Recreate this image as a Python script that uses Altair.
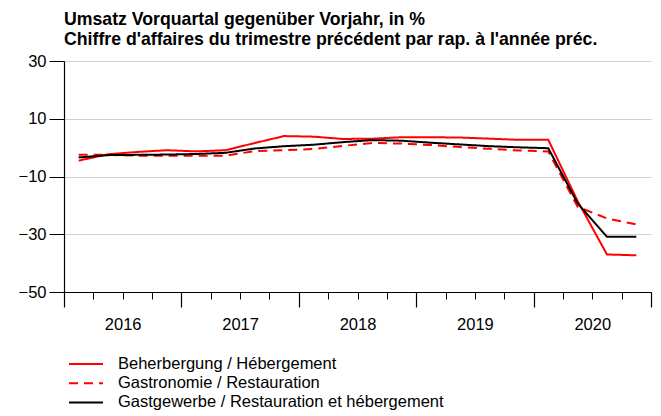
import altair as alt
import pandas as pd

# ---- data ----
quarters = [f"{y}Q{q}" for y in range(2016, 2021) for q in range(1, 5)]
years = ["2016", "2017", "2018", "2019", "2020"]

series_names = [
    "Beherbergung / Hébergement",
    "Gastronomie / Restauration",
    "Gastgewerbe / Restauration et hébergement",
]

beherbergung = [-4.5, -2.3, -1.5, -0.9,
                -1.3, -0.9, 1.6, 4.0,
                3.8, 3.0, 3.1, 3.6,
                3.6, 3.5, 3.1, 2.7,
                2.7, -18.5, -37.0, -37.3]
gastronomie = [-2.5, -2.5, -2.8, -2.8,
               -2.8, -2.8, -1.2, -0.9,
               -0.5, 0.6, 1.6, 1.4,
               0.9, 0.2, -0.4, -1.0,
               -1.3, -20.5, -24.5, -26.6]
gastgewerbe = [-3.4, -2.6, -2.5, -2.4,
               -2.2, -1.8, -0.3, 0.5,
               1.0, 1.9, 2.6, 2.4,
               1.7, 1.1, 0.5, 0.1,
               -0.2, -19.3, -30.9, -30.9]

y_ticks = [-50, -30, -10, 10, 30]
colors = ["#ff0000", "#ff0000", "#000000"]
dashes = [[1, 0], [9, 6], [1, 0]]

# ---- tables ----
rows = []
for i, q in enumerate(quarters):
    for name, vals in zip(series_names, [beherbergung, gastronomie, gastgewerbe]):
        rows.append({"pos": i + 0.5, "quarter": q, "series": name, "value": vals[i]})
df = pd.DataFrame(rows)

n_q = len(quarters)
q_per_year = 4
boundaries = list(range(0, n_q + 1))
year_bounds = list(range(0, n_q + 1, q_per_year))
year_centers = [k * q_per_year + q_per_year / 2 for k in range(len(years))]

df_years = pd.DataFrame({"pos": year_centers, "year": years})
df_bounds = pd.DataFrame({"pos": year_bounds})

FONT = "Liberation Sans"
FS = 16.5

x_scale = alt.Scale(domain=[0, n_q], nice=False, zero=False)
y_scale = alt.Scale(domain=[-50, 30], nice=False, zero=False)

legend_kw = dict(title=None, clipHeight=18, rowPadding=1.2)

lines = alt.Chart(df).mark_line(strokeWidth=2).encode(
    x=alt.X("pos:Q", scale=x_scale,
            axis=alt.Axis(values=boundaries, tickSize=7, labels=False, grid=False,
                          title=None, orient="bottom", domainColor="black",
                          tickColor="black", domainWidth=1.2, tickWidth=1)),
    y=alt.Y("value:Q", scale=y_scale,
            axis=alt.Axis(values=y_ticks, tickSize=15, grid=True, gridColor="#d0d0d0",
                          gridWidth=1, title=None, domainColor="black", tickColor="black",
                          domainWidth=1.2, labelFont=FONT, labelFontSize=FS,
                          labelColor="black", labelPadding=3)),
    color=alt.Color("series:N", scale=alt.Scale(domain=series_names, range=colors),
                    legend=alt.Legend(**legend_kw)),
    strokeDash=alt.StrokeDash("series:N", scale=alt.Scale(domain=series_names, range=dashes),
                              legend=alt.Legend(**legend_kw)),
    order=alt.value(0),
)

major = alt.Chart(df_bounds).mark_point(opacity=0).encode(
    x=alt.X("pos:Q", scale=x_scale,
            axis=alt.Axis(values=year_bounds, tickSize=15, labels=False, grid=False,
                          title=None, orient="bottom", domain=False,
                          tickColor="black", tickWidth=1.2)),
)

label_expr = "[" + ",".join(f"'{y}'" for y in years) + "][floor(datum.value / %d)]" % q_per_year
year_axis = alt.Chart(df_years).mark_point(opacity=0).encode(
    x=alt.X("pos:Q", scale=x_scale,
            axis=alt.Axis(values=year_centers, tickSize=0, ticks=False, grid=False,
                          title=None, orient="bottom", domain=False,
                          labelExpr=label_expr, labelFont=FONT, labelFontSize=FS,
                          labelColor="black", labelPadding=24)),
)

chart = alt.layer(lines, major, year_axis).resolve_axis(x="independent").properties(
    width=587,
    height=231,
    padding={"left": 56, "top": 53, "right": 2, "bottom": 122},
    autosize=alt.AutoSizeParams(type="none"),
    title=alt.TitleParams(
        text=["Umsatz Vorquartal gegenüber Vorjahr, in %",
              "Chiffre d'affaires du trimestre précédent par rap. à l'année préc."],
        anchor="start", frame="group", font=FONT, fontSize=17.7, fontWeight="bold",
        color="black", lineHeight=20, offset=4,
    ),
).configure_view(strokeWidth=0).configure_legend(
    orient="none", legendX=4, legendY=294, symbolType="stroke", symbolSize=1156,
    symbolStrokeWidth=2, labelFont=FONT, labelFontSize=FS, labelColor="black",
    labelOffset=14, padding=0, labelLimit=600,
)

chart.save("out.html", embed_options={"renderer": "svg", "actions": False})
